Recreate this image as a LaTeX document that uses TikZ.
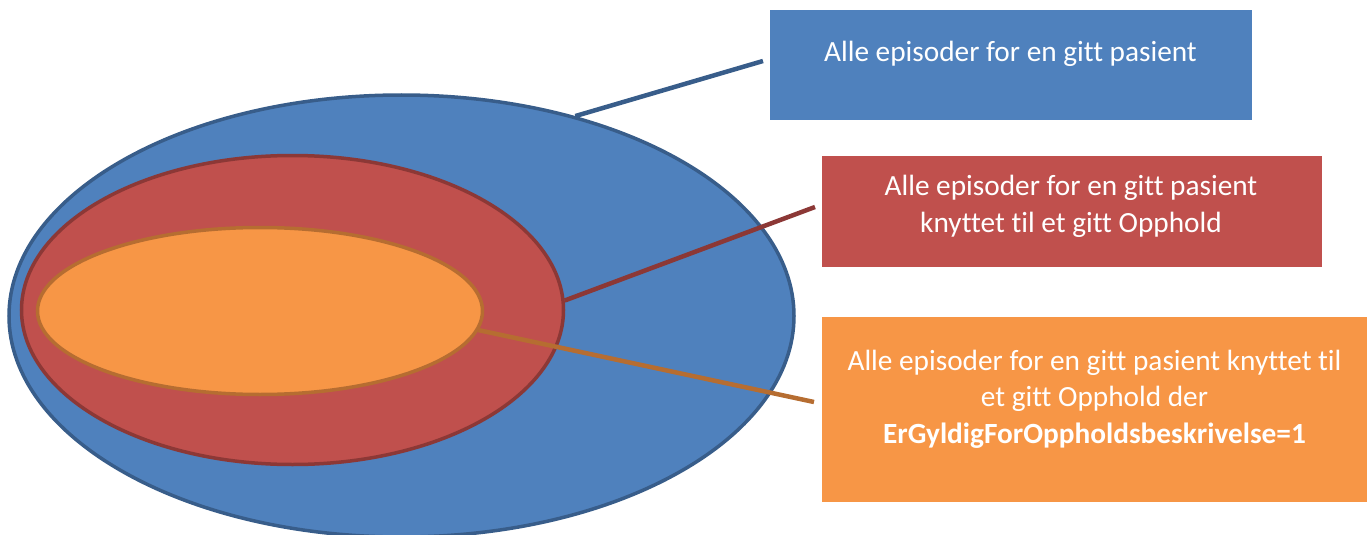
\documentclass[tikz,border=0pt]{standalone}
\usepackage{fontspec}
\setmainfont[Ligatures={NoCommon}]{Carlito}
\usetikzlibrary{shapes.geometric}
\definecolor{bluefill}{HTML}{4F81BD}
\definecolor{blueline}{HTML}{385D8A}
\definecolor{redfill}{HTML}{C0504D}
\definecolor{redline}{HTML}{8C3836}
\definecolor{orangefill}{HTML}{F79646}
\definecolor{orangeline}{HTML}{B66D31}
\begin{document}
\begin{tikzpicture}[x=1pt,y=-1pt,
  ell/.style={ellipse, inner sep=0pt, line width=3.5pt},
  boxshape/.style={rectangle, inner sep=0pt, draw=none, anchor=north west},
  lbl/.style={text=white, font=\fontsize{29.3}{36.5}\selectfont, align=center, inner sep=0pt, anchor=base},
  conn/.style={line width=4.5pt}]
\useasboundingbox (0,0) rectangle (1369,535);
% ellipses
\node[ell, fill=bluefill, draw=blueline, minimum width=785pt, minimum height=442pt] (outer) at (401.5,316) {};
\node[ell, fill=redfill, draw=redline, minimum width=542pt, minimum height=309pt] (middle) at (292.5,310) {};
\node[ell, fill=orangefill, draw=orangeline, minimum width=445pt, minimum height=167pt] (inner) at (260,311) {};
% boxes
\node[boxshape, fill=bluefill, minimum width=482pt, minimum height=110pt] (boxA) at (770,10) {};
\node[boxshape, fill=redfill, minimum width=500pt, minimum height=111pt] (boxB) at (822,156) {};
\node[boxshape, fill=orangefill, minimum width=545pt, minimum height=185pt] (boxC) at (822,317) {};
% labels (anchor base = baseline of the last line)
\node[lbl] (textA) at (1010.5,62) {Alle episoder for en gitt pasient};
\node[lbl] (textB) at (1071,232) {Alle episoder for en gitt pasient\\knyttet til et gitt Opphold};
\node[lbl] (textC) at (1094.5,443) {Alle episoder for en gitt pasient knyttet til\\et gitt Opphold der\\\textbf{ErGyldigForOppholdsbeskrivelse=1}};
% connectors
\coordinate (endA) at (763,61);
\coordinate (endB) at (815,207);
\coordinate (endC) at (814,402);
\draw[conn, blueline] (outer.49.7) -- (endA);
\draw[conn, redline] (middle.2.5) -- (endB);
\draw[conn, orangeline] (inner.-5.5) -- (endC);
\end{tikzpicture}
\end{document}
